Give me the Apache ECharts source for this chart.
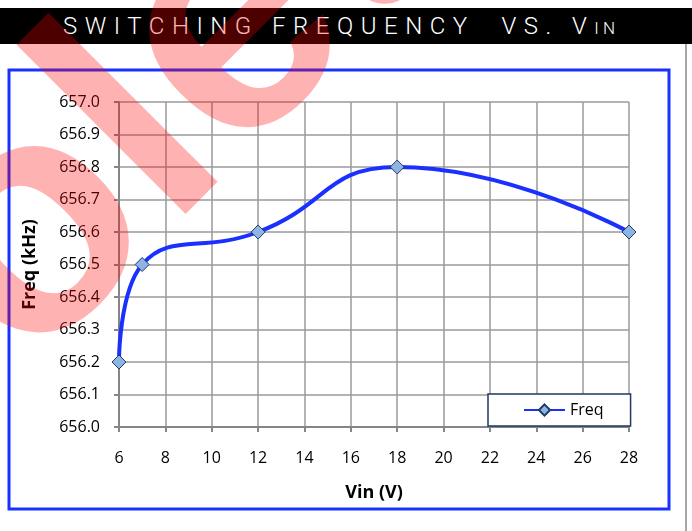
<!DOCTYPE html>
<html>
<head>
<meta charset="utf-8">
<script src="https://cdn.jsdelivr.net/npm/echarts@6/dist/echarts.min.js"></script>
<style>
  html, body { margin: 0; padding: 0; background: #fff; }
  #page { position: relative; width: 692px; height: 531px; overflow: hidden; }
  #titleBar {
    position: absolute; left: 0; top: 8px; width: 692px; height: 36px;
    background: #000; color: #fff;
    font-family: Roboto, 'Open Sans', sans-serif; font-weight: 300;
    font-size: 24px; line-height: 36px; letter-spacing: 7.5px;
    white-space: pre;
  }
  #titleBar span.txt { position: absolute; left: 63px; top: 0; }
  #titleBar small { font-size: 17px; letter-spacing: 4px; }
  #freqChart { position: absolute; left: 0; top: 0; width: 692px; height: 531px; }
</style>
</head>
<body>
<div id="page">
  <div id="titleBar"><span class="txt">SWITCHING FREQUENCY  VS. V<small>IN</small></span></div>
  <div id="freqChart"></div>
</div>
<script>
// values
const vin = [6, 7, 12, 18, 28]
const freq = [656.2, 656.5, 656.6, 656.8, 656.6]
const seriesName = 'Freq'
const xTicks = { min: 6, max: 28, step: 2 }
const yTicks = { min: 656.0, max: 657.0, step: 0.1 }

let myChart = echarts.init(document.getElementById('freqChart'))

let gridColor = '#9a9a9a'
let axisColor = '#868686'
let blue = '#1a30ff'

// watermark: place the rotated word so its "o" and "l" sit where they are in the picture
const wmText = 'Obsolete'
const wmFont = 'bold 330px "Liberation Sans"'
function watermarkAnchor() {
  let ctx = document.createElement('canvas').getContext('2d')
  ctx.font = wmFont
  ctx.textBaseline = 'middle'
  let W = ctx.measureText(wmText).width
  let ink = ch => {
    let m = ctx.measureText(ch)
    return {
      cx: (m.actualBoundingBoxRight - m.actualBoundingBoxLeft) / 2,
      cy: (m.actualBoundingBoxDescent - m.actualBoundingBoxAscent) / 2,
      bottom: m.actualBoundingBoxDescent
    }
  }
  let l = ink('l'), o = ink('o')
  let c = Math.SQRT1_2
  // offsets along the text (du) and across it (dv)
  let targets = [
    { du: ctx.measureText('Obso').width + l.cx - W / 2, dv: l.bottom, x: 201, y: 197 },
    { du: ctx.measureText('Obs').width + o.cx - W / 2, dv: o.cy, x: 37, y: 240 }
  ]
  let ax = 0, ay = 0
  targets.forEach(t => {
    ax += t.x - (t.du * c + t.dv * c)
    ay += t.y - (-t.du * c + t.dv * c)
  })
  return [ax / targets.length, ay / targets.length]
}
let wmPos = watermarkAnchor()

let options = {
  backgroundColor: 'transparent',
  animation: false,
  textStyle: { fontFamily: 'Open Sans' },
  grid: { left: 119, top: 102, right: 63, bottom: 104, containLabel: false },
  legend: {
    data: [seriesName],
    left: 488,
    top: 394,
    padding: [8, 27, 8, 35],
    itemWidth: 41,
    itemHeight: 14,
    itemGap: 4,
    borderColor: '#1f3864',
    borderWidth: 1.5,
    backgroundColor: '#fff',
    textStyle: { fontSize: 16, color: '#000', fontFamily: 'Open Sans' }
  },
  xAxis: {
    type: 'value',
    min: xTicks.min,
    max: xTicks.max,
    interval: xTicks.step,
    name: 'Vin (V)',
    nameLocation: 'middle',
    nameGap: 57,
    nameTextStyle: { fontSize: 18, fontWeight: 'bold', color: '#000', fontFamily: 'Open Sans' },
    axisLine: { show: true, lineStyle: { color: axisColor, width: 2 } },
    axisTick: { show: true, inside: false, length: 5, lineStyle: { color: axisColor, width: 2 } },
    axisLabel: { fontSize: 16, color: '#000', margin: 23 },
    splitLine: { show: true, lineStyle: { color: gridColor, width: 1.5 } }
  },
  yAxis: {
    type: 'value',
    min: yTicks.min,
    max: yTicks.max,
    interval: yTicks.step,
    name: 'Freq (kHz)',
    nameLocation: 'middle',
    nameGap: 80,
    nameTextStyle: { fontSize: 18, fontWeight: 'bold', color: '#000', fontFamily: 'Open Sans' },
    axisLine: { show: true, lineStyle: { color: axisColor, width: 2 } },
    axisTick: { show: true, inside: false, length: 5, lineStyle: { color: axisColor, width: 2 } },
    axisLabel: {
      fontSize: 16, color: '#000', margin: 19,
      formatter: v => v.toFixed(1)
    },
    splitLine: { show: true, lineStyle: { color: gridColor, width: 1.5 } }
  },
  series: [
    {
      name: seriesName,
      type: 'line',
      smooth: 0.5,
      data: vin.map((v, i) => [v, freq[i]]),
      lineStyle: { color: blue, width: 4 },
      itemStyle: { color: '#8db4e2', borderColor: '#1f3b63', borderWidth: 1 },
      symbol: 'diamond',
      symbolSize: 14,
      z: 3
    }
  ],
  graphic: [
    {
      type: 'rect',
      shape: { x: 9, y: 70, width: 660, height: 439 },
      style: { fill: 'none', stroke: blue, lineWidth: 3 },
      z: 1
    },
    {
      type: 'line',
      shape: { x1: 686, y1: 44, x2: 686, y2: 531 },
      style: { stroke: '#a6a6a6', lineWidth: 2 },
      z: 1
    },
    {
      type: 'text',
      x: wmPos[0],
      y: wmPos[1],
      rotation: Math.PI / 4,
      style: {
        text: wmText,
        font: wmFont,
        fill: 'rgba(255,0,0,0.3)',
        align: 'center',
        verticalAlign: 'middle'
      },
      z: 100,
      silent: true
    }
  ]
}
myChart.setOption(options)
</script>
</body>
</html>
